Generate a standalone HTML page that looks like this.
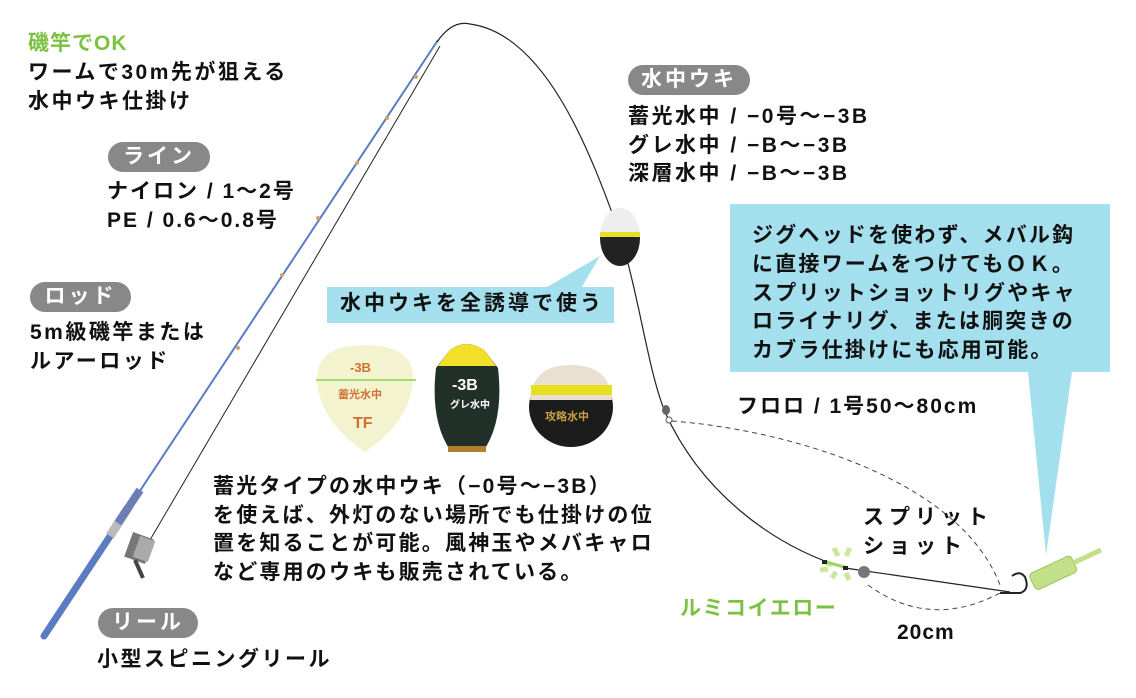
<!DOCTYPE html>
<html><head><meta charset="utf-8"><style>
body{margin:0;width:1136px;height:698px;background:#fff;overflow:hidden;position:relative;font-family:"Liberation Sans","Noto Sans CJK JP",sans-serif;font-weight:bold;color:#111}
.t{position:absolute;font-size:21px;line-height:28.5px;white-space:nowrap;letter-spacing:2.5px}
.pill{position:absolute;height:30px;border-radius:15px;background:#888;color:#fff;font-size:21px;line-height:30px;text-align:center;letter-spacing:3px}
.box{position:absolute;background:#a4dfee}
</style></head><body>
<svg width="1136" height="698" style="position:absolute;left:0;top:0">
<polygon points="1028,372 1072,372 1046,555" fill="#a4dfee"/>
<polygon points="542,290 580,290 600,256" fill="#a4dfee"/>
<line x1="150" y1="540" x2="440" y2="46" stroke="#222" stroke-width="1"/>
<line x1="44" y1="636" x2="438" y2="40" stroke="#5a7cc0" stroke-width="2"/>
<line x1="44" y1="636" x2="130" y2="506" stroke="#5a7cc0" stroke-width="7" stroke-linecap="round"/>
<line x1="110" y1="536" x2="128" y2="508" stroke="#bbb" stroke-width="9"/>
<line x1="118" y1="523" x2="140" y2="490" stroke="#6a7fb8" stroke-width="8"/>
<g fill="#d9a060"><circle cx="416" cy="77" r="2"/><circle cx="387" cy="118" r="2"/><circle cx="357" cy="163" r="2"/><circle cx="318" cy="218" r="2"/><circle cx="282" cy="275" r="2"/><circle cx="238" cy="348" r="2"/></g>
<rect x="128" y="535" width="22" height="26" fill="#777" transform="rotate(20 139 548)"/>
<rect x="136" y="538" width="16" height="22" fill="#aaa" transform="rotate(20 144 549)"/>
<line x1="135" y1="560" x2="143" y2="578" stroke="#444" stroke-width="4"/>
<path d="M437,42 Q452,20 470,24 C545,34 590,150 620,235 C640,300 648,370 665,412 C700,490 770,545 845,568 L1010,592" fill="none" stroke="#222" stroke-width="1.2"/>
<path d="M672,421 C790,430 960,480 1000,585" fill="none" stroke="#444" stroke-width="1" stroke-dasharray="5,4"/>
<path d="M868,585 Q930,630 1000,593" fill="none" stroke="#444" stroke-width="1" stroke-dasharray="5,4"/>
<ellipse cx="666" cy="410" rx="4" ry="5" fill="#666"/><circle cx="669" cy="420" r="3" fill="#fff" stroke="#555"/>
<g stroke="#c8e89a" stroke-width="5"><line x1="834" y1="548" x2="838" y2="556"/><line x1="850" y1="548" x2="846" y2="556"/><line x1="825" y1="562" x2="832" y2="565"/><line x1="832" y1="578" x2="836" y2="572"/><line x1="849" y1="580" x2="846" y2="573"/><line x1="820" y1="570" x2="828" y2="569"/></g>
<line x1="826" y1="562" x2="848" y2="568" stroke="#9fd06a" stroke-width="3"/>
<rect x="822" y="560" width="5" height="4" fill="#222"/><rect x="843" y="566" width="5" height="4" fill="#222"/>
<circle cx="864" cy="572" r="6" fill="#777"/>
<path d="M1000,593 L1020,593 Q1030,590 1025,577 Q1020,570 1012,576" fill="none" stroke="#222" stroke-width="2"/>
<g transform="rotate(-25 1055 572)"><rect x="1030" y="563" width="46" height="18" rx="4" fill="#c2df8a" stroke="#9fc060"/><rect x="1076" y="569" width="30" height="5" fill="#c2df8a"/></g>
<ellipse cx="620" cy="238" rx="20" ry="28" fill="#222"/>
<path d="M600,236 A20,28 0 0 1 640,236 Z" fill="#eee"/>
<rect x="600" y="232" width="40" height="5" fill="#e6e020"/>
<path d="M317,378 Q317,345 365,345 Q413,345 413,378 Q412,420 365,452 Q318,420 317,378Z" fill="#f3f3d0"/>
<line x1="316" y1="380" x2="416" y2="380" stroke="#9ee070" stroke-width="2"/>
<text x="350" y="372" fill="#d07030" font-size="13">-3B</text>
<text x="338" y="398" fill="#d07030" font-size="11">蓄光水中</text>
<text x="353" y="428" fill="#d07030" font-size="16">TF</text>
<path d="M450,350 Q466,338 484,350 L498,368 Q504,420 484,450 L450,450 Q430,420 436,368Z" fill="#22302a"/>
<path d="M450,350 Q466,338 484,350 L496,366 L438,366Z" fill="#f2e028"/>
<rect x="448" y="446" width="38" height="6" fill="#b08030"/>
<text x="452" y="390" fill="#fff" font-size="16">-3B</text>
<text x="450" y="408" fill="#fff" font-size="10">グレ水中</text>
<ellipse cx="571" cy="407" rx="42" ry="40" fill="#1c1c1c"/>
<path d="M530,400 Q532,365 571,365 Q610,365 612,400Z" fill="#e8e0d0"/>
<rect x="531" y="385" width="81" height="10" fill="#e6e020"/>
<text x="545" y="420" fill="#c9a040" font-size="11">攻略水中</text>
</svg>

<div class="t" style="left:28px;top:30px;color:#7cc242;font-size:21px;letter-spacing:1px">磯竿でOK</div>
<div class="t" style="left:28px;top:59px">ワームで30m先が狙える<br>水中ウキ仕掛け</div>
<div class="pill" style="left:108px;top:142px;width:102px">ライン</div>
<div class="t" style="left:107px;top:178px;letter-spacing:2px">ナイロン / 1〜2号<br>PE / 0.6〜0.8号</div>
<div class="pill" style="left:30px;top:282px;width:101px">ロッド</div>
<div class="t" style="left:30px;top:319px">5m級磯竿または<br>ルアーロッド</div>
<div class="pill" style="left:98px;top:608px;width:100px">リール</div>
<div class="t" style="left:97px;top:646px">小型スピニングリール</div>
<div class="pill" style="left:628px;top:65px;width:122px">水中ウキ</div>
<div class="t" style="left:628px;top:103px;letter-spacing:2.5px">蓄光水中 / −0号〜−3B<br>グレ水中 / −B〜−3B<br>深層水中 / −B〜−3B</div>
<div class="box" style="left:327px;top:287px;width:287px;height:36px"></div>
<div class="t" style="left:340px;top:290px;font-size:21px;letter-spacing:3px">水中ウキを全誘導で使う</div>
<div class="box" style="left:730px;top:204px;width:380px;height:168px"></div>
<div class="t" style="left:752px;top:222px;line-height:28.8px;letter-spacing:2.2px">ジグヘッドを使わず、メバル鈎<br>に直接ワームをつけてもＯＫ。<br>スプリットショットリグやキャ<br>ロライナリグ、または胴突きの<br>カブラ仕掛けにも応用可能。</div>
<div class="t" style="left:213px;top:473px;letter-spacing:2.2px">蓄光タイプの水中ウキ（−0号〜−3B）<br>を使えば、外灯のない場所でも仕掛けの位<br>置を知ることが可能。風神玉やメバキャロ<br>など専用のウキも販売されている。</div>
<div class="t" style="left:737px;top:393px;letter-spacing:2px">フロロ / 1号50〜80cm</div>
<div class="t" style="left:863px;top:504px;letter-spacing:5px">スプリット<br>ショット</div>
<div class="t" style="left:680px;top:595px;color:#7cc242;letter-spacing:1.5px">ルミコイエロー</div>
<div class="t" style="left:897px;top:619px;letter-spacing:1px">20cm</div>
</body></html>
